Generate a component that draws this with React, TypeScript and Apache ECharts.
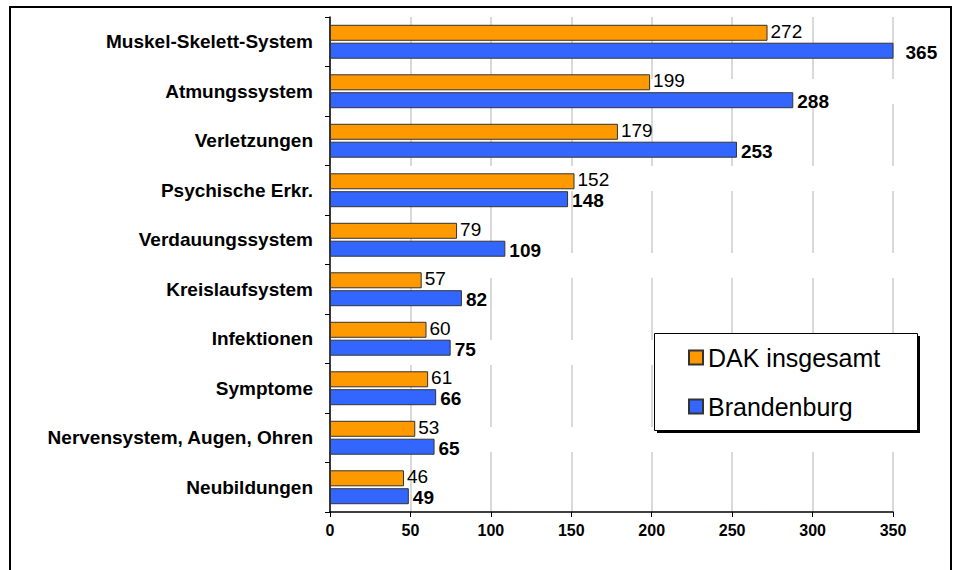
import React, { useEffect, useRef } from "react";
import * as echarts from "echarts";

const categories = [
  "Muskel-Skelett-System",
  "Atmungssystem",
  "Verletzungen",
  "Psychische Erkr.",
  "Verdauungssystem",
  "Kreislaufsystem",
  "Infektionen",
  "Symptome",
  "Nervensystem, Augen, Ohren",
  "Neubildungen",
];
const dakValues = [272, 199, 179, 152, 79, 57, 60, 61, 53, 46];
const brandenburgValues = [365, 288, 253, 148, 109, 82, 75, 66, 65, 49];
const seriesNames = ["DAK insgesamt", "Brandenburg"];
const xTicks = { min: 0, max: 350, interval: 50 };

const FONT = "Arial, 'Liberation Sans', sans-serif";

export default function App() {
  const ref = useRef<HTMLDivElement>(null);
  useEffect(() => {
    document.body.style.margin = "0";
    if (!ref.current) return;
    const chart = echarts.init(ref.current, undefined, { renderer: "svg" });
    const brbData = brandenburgValues.map((v) =>
      v > xTicks.max ? { value: v, label: { distance: 12 } } : v
    );
    chart.setOption({
      animation: false,
      backgroundColor: "#ffffff",
      textStyle: { fontFamily: FONT },
      graphic: [
        {
          type: "rect",
          shape: { x: 10, y: 7, width: 941, height: 620 },
          style: { fill: "none", stroke: "#000", lineWidth: 2 },
          silent: true,
        },
        {
          type: "rect",
          shape: { x: 657, y: 336, width: 263, height: 97 },
          style: { fill: "#000" },
          silent: true,
          z: 10,
        },
        {
          type: "rect",
          shape: { x: 654.5, y: 333.5, width: 263, height: 97 },
          style: { fill: "#fff", stroke: "#000", lineWidth: 1 },
          silent: true,
          z: 11,
        },
      ],
      legend: {
        left: 654,
        top: 333,
        orient: "vertical",
        padding: [12, 30, 12, 34],
        itemGap: 24,
        itemWidth: 14,
        itemHeight: 14,
        itemTextGap: 12,
        icon: "rect",
        z: 20,
        textStyle: { fontSize: 25, color: "#000", fontFamily: FONT },
        data: seriesNames,
      },
      grid: { left: 330, right: 64, top: 17, bottom: 58, containLabel: false },
      xAxis: {
        type: "value",
        min: xTicks.min,
        max: xTicks.max,
        interval: xTicks.interval,
        axisLine: { show: true, lineStyle: { color: "#000", width: 1.5 } },
        axisTick: { show: true, length: 5, lineStyle: { color: "#000" } },
        axisLabel: {
          margin: 10,
          fontSize: 16,
          fontWeight: "bold",
          color: "#000",
          fontFamily: FONT,
        },
        splitLine: {
          show: true,
          lineStyle: { color: "#d9d9d9", width: 2, type: [62, 25] },
        },
      },
      yAxis: {
        type: "category",
        inverse: true,
        data: categories,
        axisLine: { show: true, lineStyle: { color: "#000", width: 1.5 } },
        axisTick: { show: true, length: 5, lineStyle: { color: "#000" } },
        axisLabel: {
          margin: 17,
          fontSize: 19,
          fontWeight: "bold",
          color: "#000",
          fontFamily: FONT,
        },
      },
      series: [
        {
          name: seriesNames[0],
          type: "bar",
          data: dakValues,
          barWidth: 16,
          barGap: "12%",
          itemStyle: { color: "#ff9900", borderColor: "#333", borderWidth: 1 },
          label: {
            show: true,
            position: "right",
            distance: 3,
            offset: [0, -1.5],
            fontSize: 19,
            color: "#000",
            fontFamily: FONT,
          },
        },
        {
          name: seriesNames[1],
          type: "bar",
          data: brbData,
          barWidth: 16,
          barGap: "12%",
          clip: true,
          itemStyle: { color: "#3366ff", borderColor: "#333", borderWidth: 1 },
          label: {
            show: true,
            position: "right",
            distance: 4,
            offset: [0, 1.5],
            fontSize: 19,
            fontWeight: "bold",
            color: "#000",
            fontFamily: FONT,
          },
        },
      ],
    });
    return () => chart.dispose();
  }, []);
  return <div ref={ref} style={{ width: 957, height: 570 }} />;
}
